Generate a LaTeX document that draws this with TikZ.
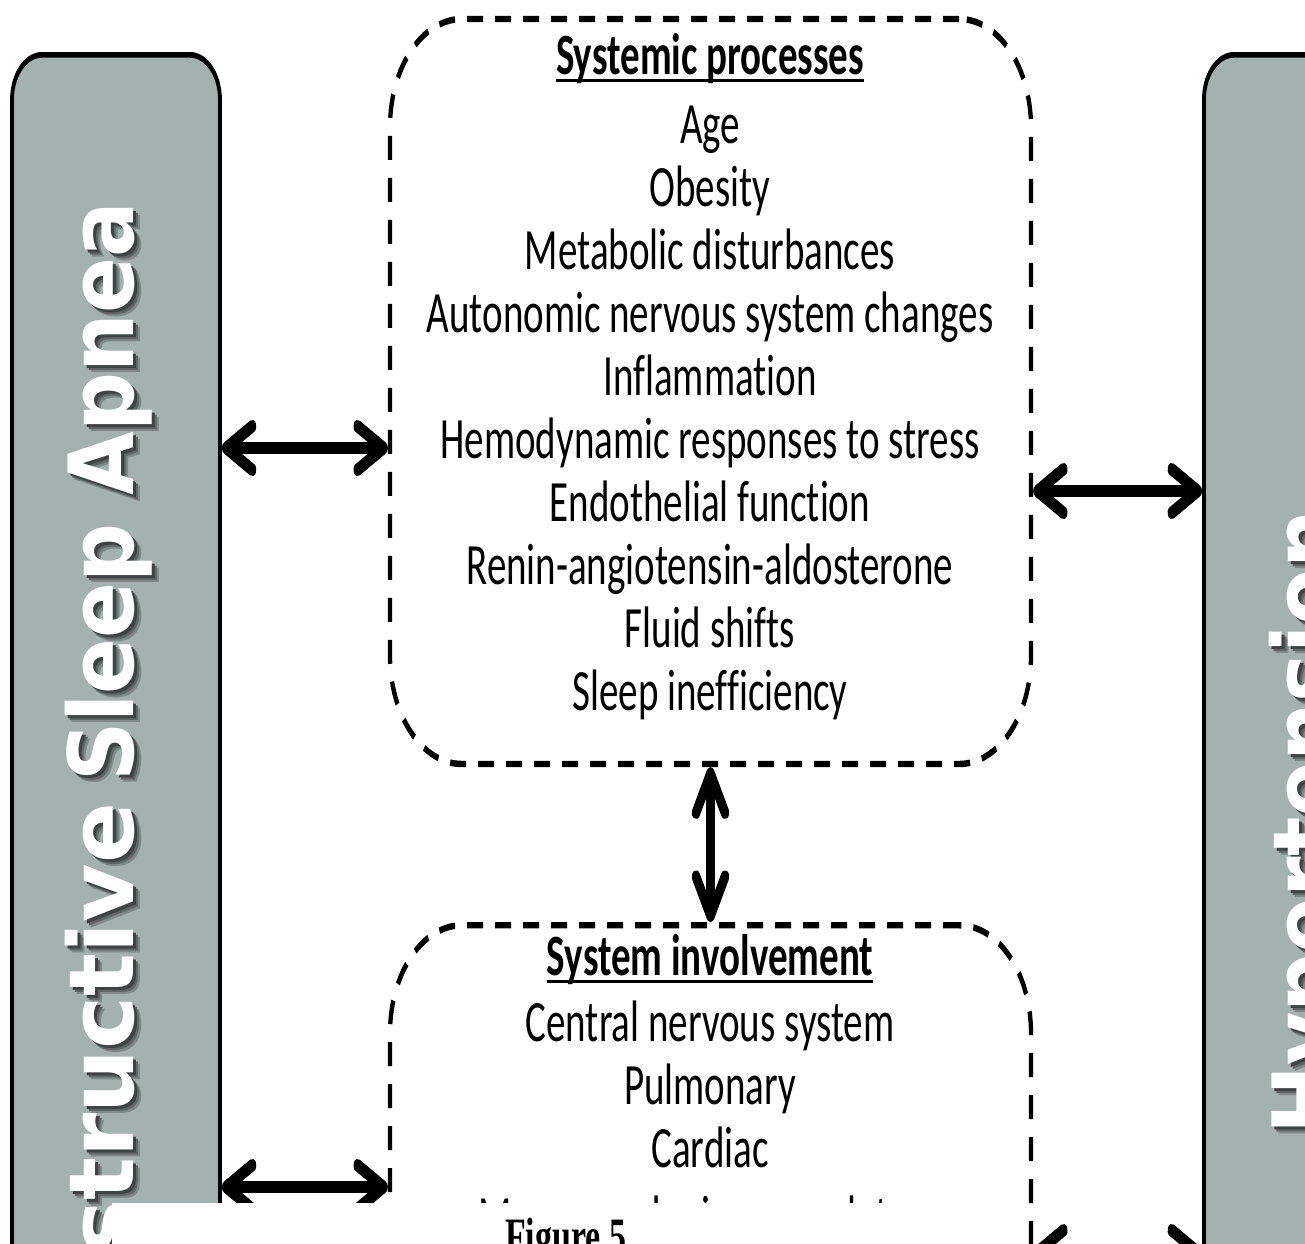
\documentclass[tikz,border=0pt]{standalone}
\usepackage{graphicx}
\usepackage{fontspec}
\setmainfont{Carlito}[Ligatures=NoCommon]
\newfontfamily\barfont{DejaVu Sans}
\newfontfamily\capfont{Liberation Serif}
\usetikzlibrary{arrows.meta}
\definecolor{barfill}{RGB}{164,178,175}
\newcommand\lbtext{{\barfont\bfseries\fontsize{90}{90}\selectfont\scalebox{0.665}[1]{Obstructive}\hspace{14pt}\scalebox{0.61}[1]{Sleep Apnea}}}
\newcommand\rbtext{\scalebox{0.61}[1]{\barfont\bfseries\fontsize{90}{90}\selectfont Hypertension}}
\tikzset{
 barbox/.style={draw=black, line width=3.8pt, fill=barfill, rounded corners=30pt, inner sep=0pt, minimum width=208pt, minimum height=900pt},
 dbox/.style={draw=black, line width=4.3pt, dash pattern=on 16pt off 12pt, rounded corners=72pt, inner sep=0pt, minimum width=641pt},
 lst/.style={font=\fontsize{39}{42}\selectfont, inner sep=0pt, anchor=base},
 hd/.style={font=\fontsize{39}{42}\selectfont\bfseries, inner sep=0pt, anchor=base},
 ul/.style={line width=2pt},
 arr/.style={line width=8.5pt, >={Straight Barb[round,length=26pt,width=29pt]}, <->},
 bartxt/.style={rotate=90, anchor=base east, inner sep=0pt},
}
\begin{document}
\begin{tikzpicture}
\fill[white] (0,0) rectangle (1305pt,-1243pt);
\begin{scope}[transform canvas={yscale=1.5}, x=1pt, y=-0.6666667pt]
 % bars
 \node[barbox, anchor=north] (lbar) at (116,52) {};
 \node[barbox, anchor=north west, minimum width=260pt] (rbar) at (1202,52) {};
 % bar texts with shadow
 \node[bartxt, text=black!22!barfill] (ls1) at (140,209) {\lbtext};
 \node[bartxt, text=black!42!barfill] (ls2) at (138,207) {\lbtext};
 \node[bartxt, text=black!62!barfill] (ls3) at (136,205) {\lbtext};
 \node[bartxt, text=white] (lt) at (133,202) {\lbtext};
 \node[bartxt, text=black!22!barfill] (rs1) at (1344,517) {\rbtext};
 \node[bartxt, text=black!42!barfill] (rs2) at (1342,515) {\rbtext};
 \node[bartxt, text=black!62!barfill] (rs3) at (1340,513) {\rbtext};
 \node[bartxt, text=white] (rt) at (1337,510) {\rbtext};
 % dashed boxes
 \node[dbox, minimum height=496.67pt] (top) at (710.5,391.5) {};
 \node[dbox, minimum height=500pt, anchor=north] (bot) at (710.5,922) {};
 % top box text
 \node[hd] (h1) at (710,74) {Systemic processes};
 \draw[ul] ([yshift=-4pt]h1.base west) -- ([yshift=-4pt]h1.base east);
 \foreach \t [count=\i] in {Age, Obesity, Metabolic disturbances, Autonomic nervous system changes, Inflammation, Hemodynamic responses to stress, Endothelial function, Renin-angiotensin-aldosterone, Fluid shifts, Sleep inefficiency}
   \node[lst] (p\i) at (710,{143+63.1*(\i-1)}) {\t};
 % bottom box text
 \node[hd] (h2) at (710,975) {System involvement};
 \draw[ul] ([yshift=-4pt]h2.base west) -- ([yshift=-4pt]h2.base east);
 \foreach \t [count=\i] in {Central nervous system, Pulmonary, Cardiac}
   \node[lst] (q\i) at (710,{1041+63*(\i-1)}) {\t};
 \node[lst] (q4) at (710,1236) {Macro- and microvasculature};
 % arrows
 \coordinate (ya) at (0,448);
 \coordinate (yb) at (0,491);
 \coordinate (yc) at (0,1187);
 \coordinate (yd) at (0,1252);
 \draw[arr] (lbar.east |- ya) -- (top.west |- ya);
 \draw[arr] (top.east |- yb) -- (rbar.west |- yb);
 \draw[arr] (top.south) -- (bot.north);
 \draw[arr] (lbar.east |- yc) -- (bot.west |- yc);
 \draw[arr] (bot.east |- yd) -- (rbar.west |- yd);
 % overlay caption
 \fill[white] (112,1203) rectangle (1000,1300);
 \node[font=\capfont\bfseries\fontsize{34}{34}\selectfont, anchor=base west, inner sep=0pt] (cap) at (505,1253) {Figure 5};
\end{scope}
\pgfresetboundingbox
\useasboundingbox (0,0) rectangle (1305pt,-1243pt);
\end{tikzpicture}
\end{document}
